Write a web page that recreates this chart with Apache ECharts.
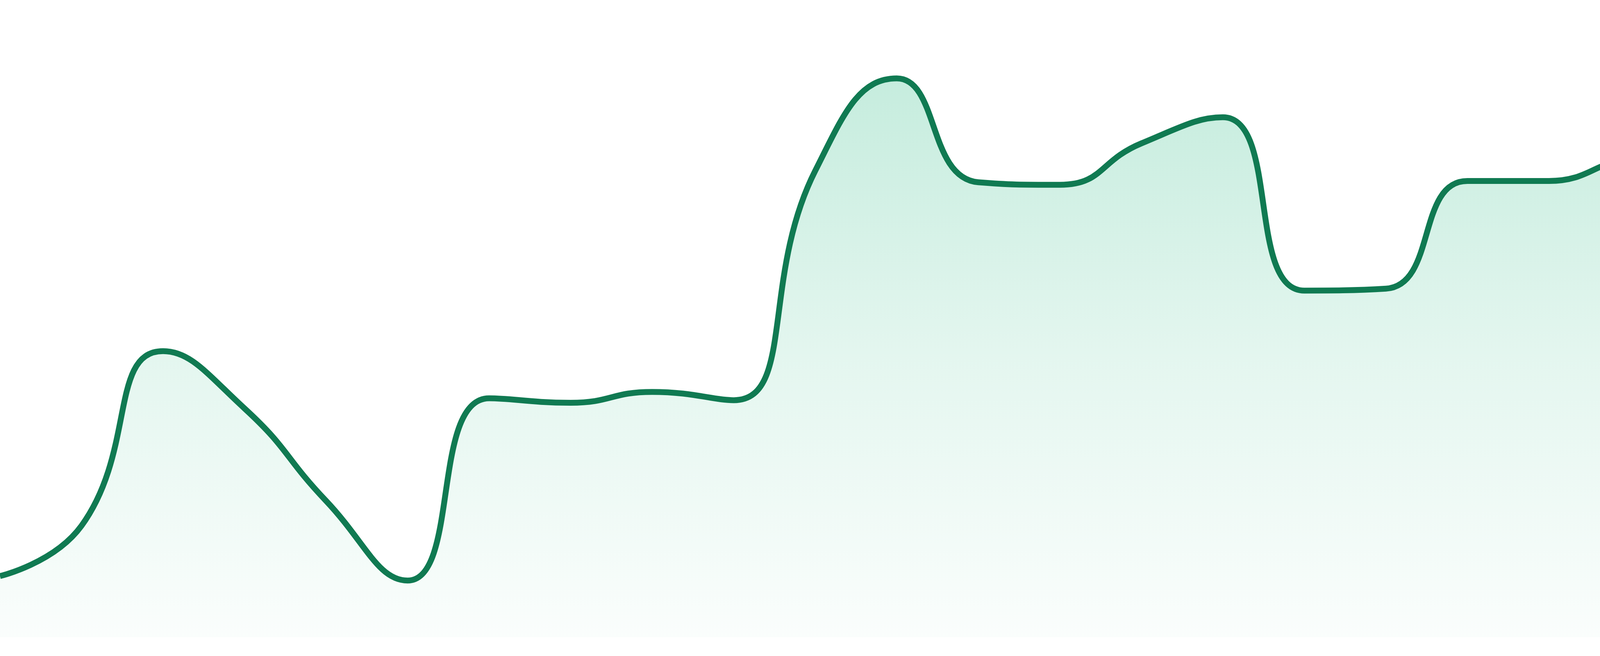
<!DOCTYPE html>
<html>
<head>
<meta charset="utf-8">
<script src="https://cdn.jsdelivr.net/npm/echarts@6/dist/echarts.min.js"></script>
<style>
html,body{margin:0;padding:0;background:#ffffff;}
#chart{width:4800px;height:1680px;}
</style>
</head>
<body>
<div id="chart"></div>
<script>
const categories = ['1','2','3','4','5','6','7','8','9','10','11','12','13','14','15','16','17','18','19','20','21','22','23','24'];
const values = [9.6, 17.5, 44.9, 35.9, 21.4, 8.9, 37.5, 36.8, 38.5, 37.2, 73.2, 87.7, 71.4, 71.0, 77.5, 81.6, 54.4, 54.7, 71.6, 71.6, 74.9, 61.4, 63.1, 63.1];

const chart = echarts.init(document.getElementById('chart'));
chart.setOption({
  animation: false,
  backgroundColor: '#ffffff',
  grid: { left: 0, right: 0, top: 0, bottom: 48 },
  xAxis: {
    type: 'category',
    data: categories,
    boundaryGap: false,
    show: false
  },
  yAxis: {
    type: 'value',
    min: 0,
    max: 100,
    show: false
  },
  series: [{
    type: 'line',
    data: values,
    smooth: 0.5,
    symbol: 'none',
    lineStyle: { color: '#107A52', width: 15 },
    areaStyle: {
      color: {
        type: 'linear', x: 0, y: 0, x2: 0, y2: 1,
        colorStops: [
          { offset: 0, color: 'rgba(40,185,130,0.38)' },
          { offset: 0.5, color: 'rgba(40,185,130,0.18)' },
          { offset: 1, color: 'rgba(40,185,130,0.03)' }
        ]
      }
    }
  }]
});
</script>
</body>
</html>
